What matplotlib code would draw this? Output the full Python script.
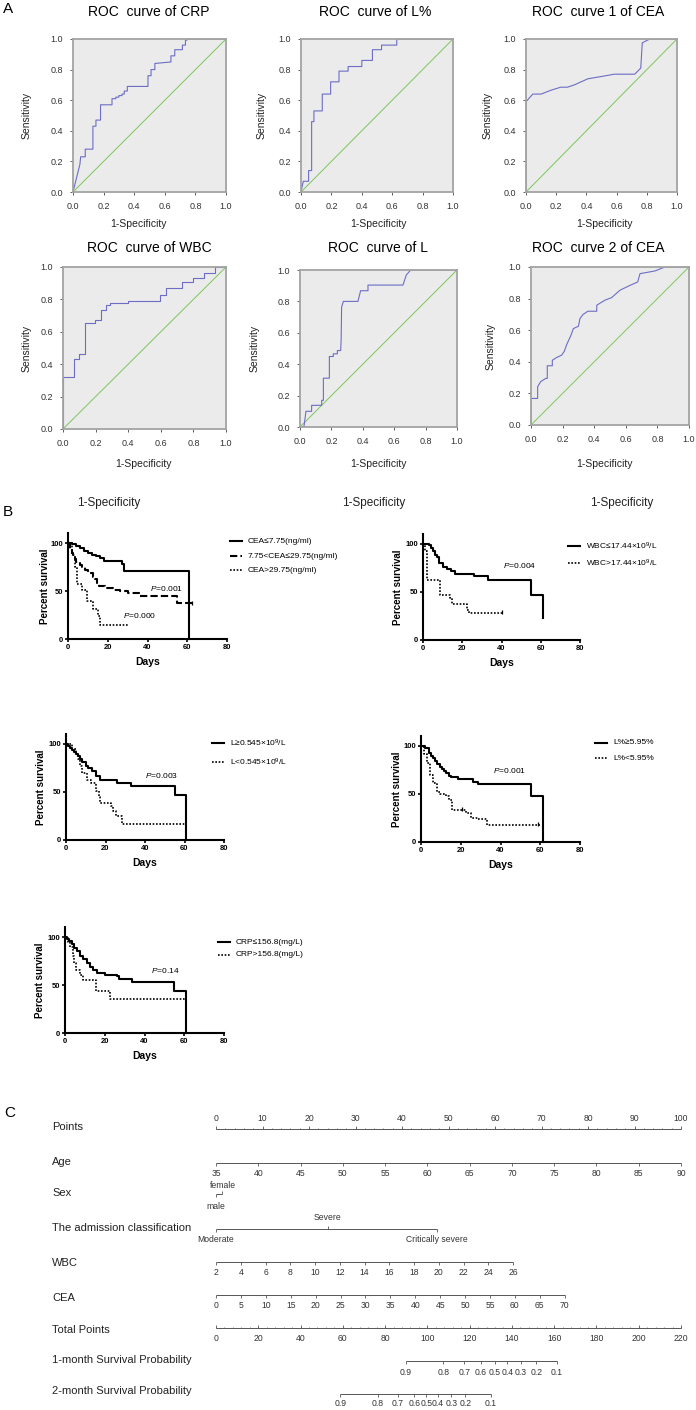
import numpy as np
import matplotlib.pyplot as plt
from matplotlib.lines import Line2D
from matplotlib.ticker import FormatStrFormatter

plt.rcParams['font.family'] = ['Liberation Sans', 'DejaVu Sans']
plt.rcParams['mathtext.fontset'] = 'custom'
plt.rcParams['mathtext.rm'] = 'Liberation Sans'
plt.rcParams['mathtext.it'] = 'Liberation Sans:italic'
plt.rcParams['mathtext.bf'] = 'Liberation Sans:bold'

W, H = 696, 1410

# ---------------- A: ROC curves (1-specificity, sensitivity) ----------------
crp_fpr = [0, 0.045, 0.05, 0.08, 0.08, 0.13, 0.13, 0.15, 0.15, 0.18, 0.18, 0.255, 0.255, 0.28, 0.28,
           0.30, 0.30, 0.32, 0.32, 0.335, 0.335, 0.355, 0.355, 0.49, 0.49, 0.51, 0.51, 0.535, 0.535,
           0.64, 0.64, 0.665, 0.665, 0.715, 0.715, 0.735, 0.735, 0.76, 1.0]
crp_tpr = [0, 0.18, 0.23, 0.23, 0.28, 0.28, 0.43, 0.43, 0.47, 0.47, 0.57, 0.57, 0.61, 0.61, 0.62,
           0.62, 0.63, 0.63, 0.64, 0.64, 0.66, 0.66, 0.69, 0.69, 0.76, 0.76, 0.80, 0.80, 0.84,
           0.85, 0.89, 0.89, 0.93, 0.93, 0.96, 0.96, 0.99, 1.0, 1.0]

lp_fpr = [0, 0.015, 0.05, 0.05, 0.07, 0.07, 0.085, 0.085, 0.14, 0.14, 0.195, 0.195, 0.25, 0.25,
          0.31, 0.31, 0.40, 0.40, 0.47, 0.47, 0.53, 0.53, 0.63, 0.63, 1.0]
lp_tpr = [0, 0.07, 0.07, 0.14, 0.14, 0.46, 0.46, 0.53, 0.53, 0.64, 0.64, 0.72, 0.72, 0.79,
          0.79, 0.82, 0.82, 0.86, 0.86, 0.93, 0.93, 0.96, 0.96, 1.0, 1.0]

cea1_fpr = [0, 0, 0.045, 0.10, 0.165, 0.23, 0.275, 0.32, 0.365, 0.41, 0.50, 0.585, 0.72, 0.76,
            0.77, 0.82, 1.0]
cea1_tpr = [0, 0.59, 0.64, 0.64, 0.665, 0.685, 0.685, 0.70, 0.72, 0.74, 0.755, 0.77, 0.77, 0.81,
            0.975, 1.0, 1.0]

wbc_fpr = [0, 0, 0.068, 0.068, 0.10, 0.10, 0.133, 0.133, 0.195, 0.195, 0.232, 0.232, 0.263, 0.263,
           0.287, 0.287, 0.40, 0.40, 0.595, 0.595, 0.63, 0.63, 0.73, 0.73, 0.797, 0.797, 0.867,
           0.867, 0.93, 0.93, 1.0]
wbc_tpr = [0, 0.32, 0.32, 0.43, 0.43, 0.46, 0.46, 0.657, 0.657, 0.67, 0.67, 0.737, 0.737, 0.764,
           0.764, 0.778, 0.778, 0.789, 0.789, 0.83, 0.83, 0.87, 0.87, 0.91, 0.91, 0.934, 0.934,
           0.963, 0.963, 1.0, 1.0]

l_fpr = [0, 0.025, 0.038, 0.074, 0.074, 0.138, 0.138, 0.149, 0.149, 0.187, 0.187, 0.212, 0.212,
         0.238, 0.238, 0.259, 0.262, 0.265, 0.276, 0.369, 0.386, 0.433, 0.433, 0.656, 0.677, 0.705, 1.0]
l_tpr = [0, 0, 0.10, 0.10, 0.138, 0.138, 0.17, 0.17, 0.311, 0.311, 0.449, 0.449, 0.466, 0.466,
         0.487, 0.487, 0.55, 0.763, 0.80, 0.80, 0.868, 0.868, 0.904, 0.904, 0.968, 1.0, 1.0]

cea2_fpr = [0, 0, 0.042, 0.042, 0.061, 0.093, 0.103, 0.103, 0.135, 0.135, 0.162, 0.194, 0.211, 0.226,
            0.253, 0.268, 0.30, 0.31, 0.33, 0.36, 0.416, 0.416, 0.468, 0.51, 0.563, 0.627, 0.675,
            0.69, 0.785, 0.848, 1.0]
cea2_tpr = [0, 0.168, 0.168, 0.242, 0.274, 0.295, 0.295, 0.375, 0.375, 0.41, 0.427, 0.442, 0.467,
            0.509, 0.568, 0.61, 0.625, 0.674, 0.70, 0.72, 0.72, 0.758, 0.79, 0.806, 0.853, 0.884,
            0.905, 0.958, 0.975, 1.0, 1.0]

# ---------------- B: Kaplan-Meier curves (days, percent survival) ----------------
cea_lo_t = [0, 2, 4, 6, 8, 10, 12, 14, 16, 18, 27, 28, 61]
cea_lo_s = [100, 99, 97, 95, 92, 90, 88, 86, 84, 81, 78, 71, 0]
cea_mid_t = [0, 1, 2, 2.5, 3.4, 4.2, 6, 7, 8.4, 10, 12.6, 13.5, 14.5, 15.7, 18.5, 22.7, 26, 30, 36,
             54.7, 62.3]
cea_mid_s = [100, 93, 90, 86, 83, 80, 77, 75, 72, 69, 65, 62, 58, 55, 53, 51, 50, 48, 45, 37, 37]
cea_hi_t = [0, 2.2, 3.5, 4.5, 7.2, 9.6, 12.6, 15.2, 16.0, 30.3]
cea_hi_s = [100, 88, 75, 57, 51, 40, 31, 24, 15, 15]

wbc_lo_t = [0, 3, 4, 5, 6, 7, 8, 10, 12, 14.5, 16.2, 26, 33.2, 55, 61.3]
wbc_lo_s = [100, 99, 96, 93, 89, 86, 80, 76, 74, 72, 69, 67, 63, 47, 23]
wbc_hi_t = [0, 1, 2, 8.5, 14, 15, 22.6, 23.5, 40.3]
wbc_hi_s = [100, 93, 62, 47, 44, 37, 31, 28, 28]

l_hi_t = [0, 1, 2, 3, 4, 5, 6, 7, 8, 10, 11, 13, 15, 17, 20, 26, 33, 55, 61]
l_hi_s = [100, 98, 96, 94, 92, 90, 87, 84, 81, 77, 75, 72, 67, 63, 62, 59, 56, 47, 0]
l_lo_t = [0, 3, 4.9, 6, 7, 8.3, 10.5, 12.8, 15, 16.6, 17.3, 22.9, 24, 25.5, 28.5, 60]
l_lo_s = [100, 95, 90, 84, 77, 70, 63, 59, 51, 45, 38.5, 35, 30, 25, 17, 17]

lp_hi_t = [0, 2.2, 3.8, 5, 6, 7, 8.3, 9.5, 10.5, 11.5, 12.8, 14, 15, 18.4, 26.2, 28.5, 55.3, 61.4]
lp_hi_s = [100, 98, 93, 90, 87, 84, 81, 78, 76, 74, 71.6, 69, 67.5, 65.4, 63, 60.6, 48.4, 0]
lp_lo_t = [0, 1.6, 3.1, 4.5, 6, 8.3, 9.4, 12.8, 14.3, 15.7, 22.4, 25, 28.5, 33, 59.8]
lp_lo_s = [100, 92, 82, 70, 61, 52.6, 49.5, 47.4, 44, 33.6, 30, 25, 24, 18, 18]

crp_lo_t = [0, 0.8, 2.2, 3.4, 4.5, 5.9, 7.5, 9.2, 10.9, 12.6, 14.3, 15.9, 20, 26, 27.3, 33.5, 54.8, 60.9]
crp_lo_s = [100, 98, 96, 93, 89, 85, 80, 77, 73, 69, 65.3, 62.5, 60.8, 59, 56.2, 53, 44, 0]
crp_hi_t = [0, 1.3, 2.5, 3.9, 4.5, 5.5, 7.5, 9.2, 15.5, 22.6, 60.9]
crp_hi_s = [100, 95, 90, 80, 73, 66, 60, 55, 44, 35.8, 35.8]

# ---------------- C: nomogram ----------------
age_ticks = list(range(35, 91, 5))
age_span = [35, 90]
age_pts_span = [0, 100]
sex_labels = ['male', 'female']
sex_pts = [0, 1.3]
adm_labels = ['Moderate', 'Severe', 'Critically severe']
adm_pts = [0, 24.0, 47.6]
wbc_ticks = list(range(2, 27, 2))
wbc_span = [2, 26]
wbc_pts_span = [0, 63.9]
cea_ticks = list(range(0, 71, 5))
cea_span = [0, 70]
cea_pts_span = [0, 75.0]
total_ticks = list(range(0, 221, 20))
surv1_labels = ['0.9', '0.8', '0.7', '0.6', '0.5', '0.4', '0.3', '0.2', '0.1']
surv1_total = [89.7, 107.5, 117.5, 125.3, 132.0, 137.9, 144.2, 151.5, 161.3]
surv2_labels = ['0.9', '0.8', '0.7', '0.6', '0.5', '0.4', '0.3', '0.2', '0.1']
surv2_total = [58.9, 76.5, 86.1, 93.9, 99.5, 105.0, 111.3, 118.0, 130.1]

fig = plt.figure(figsize=(W / 100, H / 100), dpi=100)


def box(l, t, r, b):
    return [l / W, 1 - b / H, (r - l) / W, (b - t) / H]


def ftext(x, y, s, **kw):
    kw.setdefault('va', 'center')
    kw.setdefault('ha', 'center')
    return fig.text(x / W, 1 - y / H, s, **kw)


# ---- ROC panels ----
roc_panels = [
    ((73, 39, 226, 192), 149, 12, 27, 'ROC  curve of CRP', crp_fpr, crp_tpr),
    ((301, 39, 453, 192), 375, 12, 262, 'ROC  curve of L%', lp_fpr, lp_tpr),
    ((526, 39, 677, 192), 598, 12, 488, 'ROC  curve 1 of CEA', cea1_fpr, cea1_tpr),
    ((63, 267, 226, 429), 149, 248, 27, 'ROC  curve of WBC', wbc_fpr, wbc_tpr),
    ((300, 270, 457, 427), 378, 248, 255, 'ROC  curve of L', l_fpr, l_tpr),
    ((531, 267, 689, 425), 598, 248, 491, 'ROC  curve 2 of CEA', cea2_fpr, cea2_tpr),
]
ticks = np.arange(0, 1.01, 0.2)
for rect, tx, ty, sx, title, fpr, tpr in roc_panels:
    ax = fig.add_axes(box(*rect))
    ax.set_facecolor('#ebebeb')
    ax.plot([0, 1], [0, 1], color='#7cc65c', lw=0.7)
    ax.plot(fpr, tpr, color='#6d6dc6', lw=0.8)
    ax.set_xlim(0, 1)
    ax.set_ylim(0, 1)
    ax.set_xticks(ticks)
    ax.set_yticks(ticks)
    ax.xaxis.set_major_formatter(FormatStrFormatter('%.1f'))
    ax.yaxis.set_major_formatter(FormatStrFormatter('%.1f'))
    for sp in ax.spines.values():
        sp.set_color('#a3a3a3')
        sp.set_linewidth(1.3)
    ax.tick_params(length=2.5, width=0.6, color='#444', labelsize=6.5, labelcolor='#333', pad=4.5)
    ftext(tx, ty, title, fontsize=10)
    ftext(sx, (rect[1] + rect[3]) / 2, 'Sensitivity', fontsize=7.5, rotation=90, color='#222')

for x in [138, 378, 604]:
    ftext(x, 224, '1-Specificity', fontsize=7.5, color='#222')
for x in [143, 378, 604]:
    ftext(x, 464, '1-Specificity', fontsize=7.5, color='#222')
for x in [109, 374, 622]:
    ftext(x, 503, '1-Specificity', fontsize=8.5, color='#222')

ftext(8, 9, 'A', fontsize=11)
ftext(8, 512, 'B', fontsize=11)
ftext(10, 1113, 'C', fontsize=11)

# ---- KM panels ----
solid = dict(lw=1.5, ls='-')
dashed = dict(lw=1.5, ls=(0, (3.5, 1.5)))
dotted = dict(lw=1.2, ls=(0, (1, 1)))
narrow = ['Liberation Sans Narrow', 'Liberation Sans', 'DejaVu Sans']


def km_panel(l, r, y0, curves, legend, lx, ly, ylab_x, ptexts, censors=()):
    ax = fig.add_axes(box(l, y0 - 105.6, r, y0))
    for t, s, style in curves:
        ax.step(t, s, where='post', color='k', clip_on=False, **style)
    for cx, cy in censors:
        ax.plot([cx], [cy], marker='|', ms=3.5, mew=0.9, color='k', ls='none', clip_on=False)
    ax.set_xlim(0, 80)
    ax.set_ylim(0, 110)
    ax.set_xticks([0, 20, 40, 60, 80])
    ax.set_yticks([0, 50, 100])
    ax.spines[['top', 'right']].set_visible(False)
    ax.spines[['left', 'bottom']].set_linewidth(1.5)
    ax.tick_params(direction='out', length=2.5, width=1.2, labelsize=5.5, pad=1)
    for lab in ax.get_xticklabels() + ax.get_yticklabels():
        lab.set_fontweight('bold')
        lab.set_family(narrow)
    for px, py, s in ptexts:
        ax.text(px, py, s, fontsize=6, ha='center', va='center', family=narrow)
    ftext((l + r) / 2, y0 + 23, 'Days', fontsize=7.5, fontweight='bold')
    ftext(ylab_x, y0 - 53, 'Percent survival', fontsize=7, fontweight='bold', rotation=90)
    for (lab, style), y in zip(legend, ly):
        fig.add_artist(Line2D([lx / W, (lx + 12) / W], [1 - y / H, 1 - y / H],
                              color='k', transform=fig.transFigure, **style))
        ftext(lx + 18, y, lab, fontsize=6, ha='left', family=narrow)
    return ax


km_panel(68, 227, 639,
         [(cea_lo_t, cea_lo_s, solid), (cea_mid_t, cea_mid_s, dashed), (cea_hi_t, cea_hi_s, dotted)],
         [('CEA≤7.75(ng/ml)', solid), ('7.75<CEA≤29.75(ng/ml)', dashed), ('CEA>29.75(ng/ml)', dotted)],
         230, [541, 556, 570], 45,
         [(49.8, 53, '$P$=0.001'), (36.2, 25, '$P$=0.000')],
         censors=[(62.3, 37)])

km_panel(423, 580, 640,
         [(wbc_lo_t, wbc_lo_s, solid), (wbc_hi_t, wbc_hi_s, dotted)],
         [('WBC≤17.44×10$^{9}$/L', solid), ('WBC>17.44×10$^{9}$/L', dotted)],
         568, [546, 563], 398,
         [(49.4, 78, '$P$=0.004')],
         censors=[(40.3, 29)])

km_panel(66, 224, 840,
         [(l_hi_t, l_hi_s, solid), (l_lo_t, l_lo_s, dotted)],
         [('L≥0.545×10$^{9}$/L', solid), ('L<0.545×10$^{9}$/L', dotted)],
         212, [743, 762], 41,
         [(48.6, 66.7, '$P$=0.003')])

km_panel(421, 580, 842,
         [(lp_hi_t, lp_hi_s, solid), (lp_lo_t, lp_lo_s, dotted)],
         [('L%≥5.95%', solid), ('L%<5.95%', dotted)],
         595, [743, 758], 397,
         [(44.3, 74, '$P$=0.001')],
         censors=[(20.6, 34.5), (58.7, 19)])

km_panel(65, 224, 1033,
         [(crp_lo_t, crp_lo_s, solid), (crp_hi_t, crp_hi_s, dotted)],
         [('CRP≤156.8(mg/L)', solid), ('CRP>156.8(mg/L)', dotted)],
         218, [942, 955], 40,
         [(50.3, 64.6, '$P$=0.14')])

# ---- nomogram ----
nom = fig.add_axes(box(216, 1100, 681, 1410))
nom.set_xlim(0, 100)
nom.set_ylim(1410, 1100)
nom.axis('off')
lc = '#555555'
tc = '#333333'
fs = 6.2


def nom_axis(y, pts, labels, tick=1, lab_dy=11, minor=None, tl=2.8):
    pts = np.asarray(pts, dtype=float)
    nom.hlines(y, pts.min(), pts.max(), color=lc, lw=0.7, clip_on=False)
    nom.vlines(pts, y, y + tick * tl, color=lc, lw=0.6, clip_on=False)
    if minor is not None:
        nom.vlines(minor, y, y + tick * 1.4, color=lc, lw=0.5, clip_on=False)
    for p, s in zip(pts, labels):
        nom.text(p, y + lab_dy, s, fontsize=fs, ha='center', va='center', color=tc,
                 family=narrow, clip_on=False)


nom_axis(1129, np.arange(0, 101, 10), [str(v) for v in range(0, 101, 10)], tick=-1, lab_dy=-10,
         minor=np.arange(0, 101, 2))
nom_axis(1163, np.interp(age_ticks, age_span, age_pts_span), [str(v) for v in age_ticks])

# sex: two-level factor, labels above / below
nom.hlines(1194, sex_pts[0], sex_pts[1], color=lc, lw=0.7)
nom.vlines(sex_pts[0], 1194, 1197, color=lc, lw=0.6)
nom.vlines(sex_pts[1], 1194, 1191, color=lc, lw=0.6)
nom.text(sex_pts[0], 1207, sex_labels[0], fontsize=fs, ha='center', va='center', color=tc, family=narrow)
nom.text(sex_pts[1] + 0.1, 1186, sex_labels[1], fontsize=fs, ha='center', va='center', color=tc, family=narrow)

# admission classification
nom.hlines(1229, adm_pts[0], adm_pts[-1], color=lc, lw=0.7)
for p, s, d in zip(adm_pts, adm_labels, [1, -1, 1]):
    nom.vlines(p, 1229, 1229 + d * 2.8, color=lc, lw=0.6)
    nom.text(p, 1229 + d * 11, s, fontsize=fs, ha='center', va='center', color=tc, family=narrow,
             clip_on=False)

nom_axis(1262, np.interp(wbc_ticks, wbc_span, wbc_pts_span), [str(v) for v in wbc_ticks])
nom_axis(1295, np.interp(cea_ticks, cea_span, cea_pts_span), [str(v) for v in cea_ticks])
nom_axis(1328, np.array(total_ticks) / 2.2, [str(v) for v in total_ticks], tick=-1,
         minor=np.arange(0, 221, 4) / 2.2)
nom_axis(1361, np.array(surv1_total) / 2.2, surv1_labels, lab_dy=12)
nom_axis(1394, np.array(surv2_total) / 2.2, surv2_labels, lab_dy=10)

row_names = [('Points', 1127), ('Age', 1162), ('Sex', 1193), ('The admission classification', 1228),
             ('WBC', 1263), ('CEA', 1298), ('Total Points', 1330),
             ('1-month Survival Probability', 1360), ('2-month Survival Probability', 1391)]
for name, y in row_names:
    ftext(52, y, name, fontsize=8, ha='left', color='#222')

fig.savefig('out.png', dpi=100)
